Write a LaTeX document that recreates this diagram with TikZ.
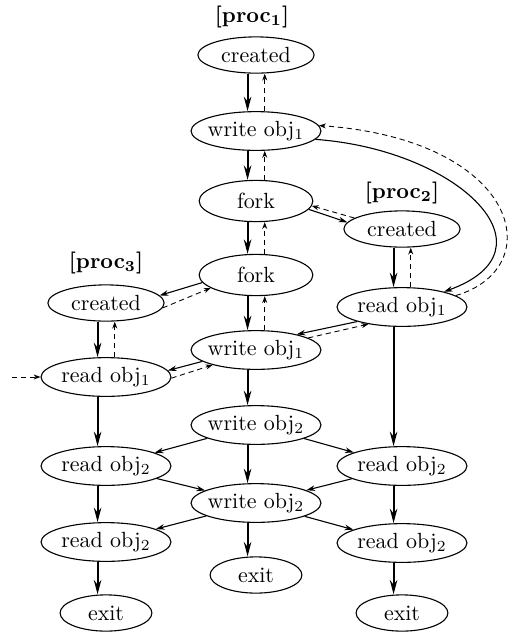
\documentclass[tikz,border=0pt]{standalone}
\usetikzlibrary{arrows.meta, shapes.geometric}

\begin{document}
\begin{tikzpicture}[x=0.016cm, y=-0.016cm,
    state/.style={ellipse, draw, line width=0.5pt, inner xsep=-10pt, inner ysep=0pt},
    wide/.style={state, minimum width=2.08cm, minimum height=0.62cm},
    crt/.style={state, minimum width=1.86cm, minimum height=0.58cm},
    frk/.style={state, minimum width=1.82cm, minimum height=0.66cm},
    ext/.style={state, minimum width=1.47cm, minimum height=0.58cm},
    proc/.style={font=\bfseries},
    main/.style={-{Stealth[length=2.3mm, width=1.2mm]}, line width=0.9pt},
    sub/.style={-{Stealth[length=1.4mm, width=0.9mm]}, line width=0.5pt},
    back/.style={-{Stealth[length=1.1mm, width=0.8mm]}, line width=0.4pt,
      dash pattern=on 2.4pt off 1.7pt}]
  \useasboundingbox (0,0) rectangle (512,632);

  % proc 1
  \node[proc] (t1) at (252,17) {[proc$_{\mathbf 1}$]};
  \node[crt] (p1a) at (256,55) {created};
  \node[wide] (p1b) at (256,131) {write obj$_1$};
  \node[frk] (p1c) at (256,201) {fork};
  \node[frk] (p1d) at (256,275) {fork};
  \node[wide] (p1e) at (256,350) {write obj$_1$};
  \node[wide] (p1f) at (256,425) {write obj$_2$};
  \node[wide] (p1g) at (256,503) {write obj$_2$};
  \node[ext] (p1h) at (256,575) {exit};

  % proc 2
  \node[proc] (t2) at (402,193) {[proc$_{\mathbf 2}$]};
  \node[crt] (p2a) at (402,229) {created};
  \node[wide] (p2b) at (402,307) {read obj$_1$};
  \node[wide] (p2c) at (402,466) {read obj$_2$};
  \node[wide] (p2d) at (402,543) {read obj$_2$};
  \node[ext] (p2e) at (402,613) {exit};

  % proc 3
  \node[proc] (t3) at (106,263) {[proc$_{\mathbf 3}$]};
  \node[crt] (p3a) at (106,303) {created};
  \node[wide] (p3b) at (106,377) {read obj$_1$};
  \node[wide] (p3c) at (106,466) {read obj$_2$};
  \node[wide] (p3d) at (106,542) {read obj$_2$};
  \node[ext] (p3e) at (106,613) {exit};

  \coordinate (in3) at (12,377);

  \foreach \a/\b in {p1a/p1b, p1b/p1c, p1c/p1d, p1d/p1e, p1e/p1f, p1f/p1g,
      p1g/p1h, p2a/p2b, p2b/p2c, p2c/p2d, p2d/p2e, p3a/p3b, p3b/p3c,
      p3c/p3d, p3d/p3e}
    \draw[main] ([xshift=-1.35mm]\a.south) -- ([xshift=-1.35mm]\b.north);
  \foreach \a/\b in {p1b/p1a, p1c/p1b, p1d/p1c, p1e/p1d, p2b/p2a, p3b/p3a}
    \draw[back] ([xshift=1.4mm]\a.north) -- ([xshift=1.4mm]\b.south);

  \draw[sub] (p1c.-9) -- (p2a.173);
  \draw[back] (p2a.167) -- (p1c.-5);
  \draw[sub] (p1d.188) -- (p3a.8);
  \draw[back] (p3a.-5) -- (p1d.196);
  \draw[sub] (p2b.198) -- (p1e.21);
  \draw[back] (p1e.13) -- (p2b.207);
  \draw[sub] (p1e.192) -- (p3b.6);
  \draw[back] (p3b.-1) -- (p1e.199);
  \draw[back] (in3) -- (p3b);

  \draw[sub] (p1b.-8) .. controls (460,150) and (560,250) .. (p2b.20);
  \draw[back] (p2b.12) .. controls (550,268) and (520,140) .. (p1b.5);

  \foreach \a/\b in {p1f/p3c, p1f/p2c, p3c/p1g, p2c/p1g, p1g/p3d, p1g/p2d}
    \draw[sub] (\a) -- (\b);
\end{tikzpicture}
\end{document}
